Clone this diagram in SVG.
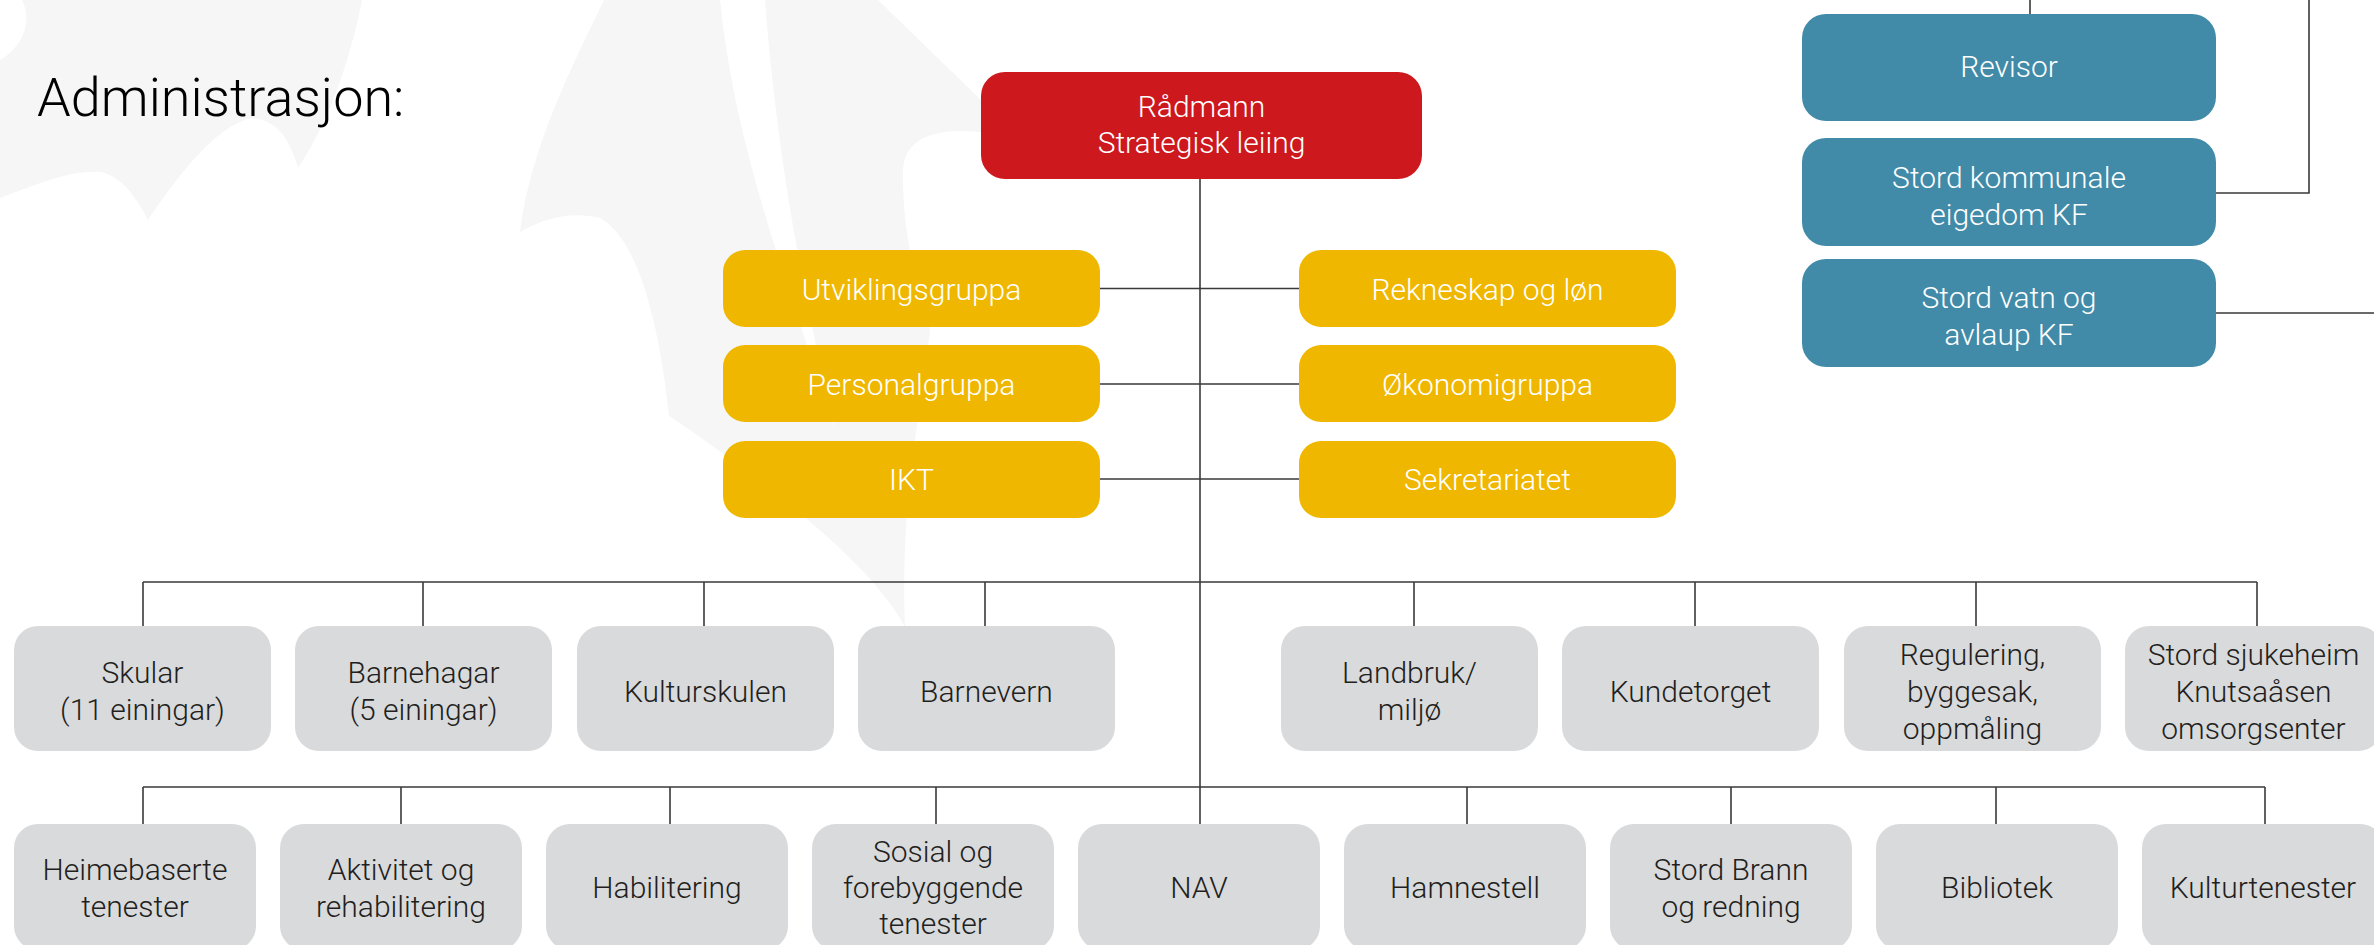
<svg xmlns="http://www.w3.org/2000/svg" width="2374" height="945" viewBox="0 0 2374 945">
<style>
text{font-family:Roboto,"Liberation Sans",sans-serif;font-weight:300;font-size:30px;text-anchor:middle}
.w{fill:#ffffff}
.d{fill:#231f20}
.red{fill:#cd181e}
.yel{fill:#f0b700}
.teal{fill:#418ba9}
.grey{fill:#d9dadc}
.ln{stroke:#3a3a3a;stroke-width:1.6;fill:none}
.wm{fill:#f6f6f6}
</style>
<rect width="2374" height="945" fill="#ffffff"/>
<g id="watermark">
<path class="wm" d="M0,60 C25,45 32,20 22,0 L362,0 C350,60 330,120 298,168 C290,140 278,120 252,118 C215,125 175,180 148,220 C135,195 120,175 100,172 C70,170 35,185 0,198 Z"/>
<path class="wm" d="M604,0 L878,0 L981,100 L981,132 C940,128 905,135 903,170 C902,230 915,280 930,330 C920,420 900,500 905,627 C870,560 750,470 669,416 C660,330 640,240 600,218 C570,210 540,220 520,232 C530,150 570,70 604,0 Z"/>
<path fill="#ffffff" d="M720,0 L765,0 C775,130 795,260 835,430 C790,290 735,150 720,0 Z"/>
</g>
<text x="37" y="116" style="font-size:54px;text-anchor:start;fill:#000">Administrasjon:</text>
<g id="connectors">
<path class="ln" d="M1200,179 V824"/>
<path class="ln" d="M1100,288.5 H1299 M1100,384 H1299 M1100,479 H1299"/>
<path class="ln" d="M143,582 H2257 M143,582 V626 M423,582 V626 M704,582 V626 M985,582 V626 M1414,582 V626 M1695,582 V626 M1976,582 V626 M2257,582 V626"/>
<path class="ln" d="M143,787 H2265 M143,787 V824 M401,787 V824 M670,787 V824 M936,787 V824 M1467,787 V824 M1731,787 V824 M1996,787 V824 M2265,787 V824"/>
<path class="ln" d="M2030,0 V14 M2309,0 V193 H2216 M2216,313 H2374"/>
</g>
<g id="radmann"><rect class="red" x="981" y="72" width="441" height="107" rx="24"/><text class="w" x="1201.5" y="117">Rådmann</text><text class="w" x="1201.5" y="153">Strategisk leiing</text></g>
<g id="utviklingsgruppa"><rect class="yel" x="723" y="250" width="377" height="77" rx="22"/><text class="w" x="911.5" y="300">Utviklingsgruppa</text></g>
<g id="personalgruppa"><rect class="yel" x="723" y="345" width="377" height="77" rx="22"/><text class="w" x="911.5" y="395">Personalgruppa</text></g>
<g id="ikt"><rect class="yel" x="723" y="441" width="377" height="77" rx="22"/><text class="w" x="911.5" y="490">IKT</text></g>
<g id="rekneskap"><rect class="yel" x="1299" y="250" width="377" height="77" rx="22"/><text class="w" x="1487.5" y="300">Rekneskap og løn</text></g>
<g id="okonomigruppa"><rect class="yel" x="1299" y="345" width="377" height="77" rx="22"/><text class="w" x="1487.5" y="395">Økonomigruppa</text></g>
<g id="sekretariatet"><rect class="yel" x="1299" y="441" width="377" height="77" rx="22"/><text class="w" x="1487.5" y="490">Sekretariatet</text></g>
<g id="revisor"><rect class="teal" x="1802" y="14" width="414" height="107" rx="24"/><text class="w" x="2009" y="77">Revisor</text></g>
<g id="eigedom"><rect class="teal" x="1802" y="138" width="414" height="108" rx="24"/><text class="w" x="2009" y="188">Stord kommunale</text><text class="w" x="2009" y="225">eigedom KF</text></g>
<g id="vatn"><rect class="teal" x="1802" y="259" width="414" height="108" rx="24"/><text class="w" x="2009" y="308">Stord vatn og</text><text class="w" x="2009" y="345">avlaup KF</text></g>
<g id="skular"><rect class="grey" x="14" y="626" width="257" height="125" rx="24"/><text class="d" x="142.5" y="683">Skular</text><text class="d" x="142.5" y="720">(11 einingar)</text></g>
<g id="barnehagar"><rect class="grey" x="295" y="626" width="257" height="125" rx="24"/><text class="d" x="423.5" y="683">Barnehagar</text><text class="d" x="423.5" y="720">(5 einingar)</text></g>
<g id="kulturskulen"><rect class="grey" x="577" y="626" width="257" height="125" rx="24"/><text class="d" x="705.5" y="702">Kulturskulen</text></g>
<g id="barnevern"><rect class="grey" x="858" y="626" width="257" height="125" rx="24"/><text class="d" x="986.5" y="702">Barnevern</text></g>
<g id="landbruk"><rect class="grey" x="1281" y="626" width="257" height="125" rx="24"/><text class="d" x="1409.5" y="683">Landbruk/</text><text class="d" x="1409.5" y="720">miljø</text></g>
<g id="kundetorget"><rect class="grey" x="1562" y="626" width="257" height="125" rx="24"/><text class="d" x="1690.5" y="702">Kundetorget</text></g>
<g id="regulering"><rect class="grey" x="1844" y="626" width="257" height="125" rx="24"/><text class="d" x="1972.5" y="665">Regulering,</text><text class="d" x="1972.5" y="702">byggesak,</text><text class="d" x="1972.5" y="739">oppmåling</text></g>
<g id="sjukeheim"><rect class="grey" x="2125" y="626" width="257" height="125" rx="24"/><text class="d" x="2253.5" y="665">Stord sjukeheim</text><text class="d" x="2253.5" y="702">Knutsaåsen</text><text class="d" x="2253.5" y="739">omsorgsenter</text></g>
<g id="heimebaserte"><rect class="grey" x="14" y="824" width="242" height="126" rx="24"/><text class="d" x="135" y="880">Heimebaserte</text><text class="d" x="135" y="917">tenester</text></g>
<g id="aktivitet"><rect class="grey" x="280" y="824" width="242" height="126" rx="24"/><text class="d" x="401" y="880">Aktivitet og</text><text class="d" x="401" y="917">rehabilitering</text></g>
<g id="habilitering"><rect class="grey" x="546" y="824" width="242" height="126" rx="24"/><text class="d" x="667" y="898">Habilitering</text></g>
<g id="sosial"><rect class="grey" x="812" y="824" width="242" height="126" rx="24"/><text class="d" x="933" y="862">Sosial og</text><text class="d" x="933" y="898">forebyggende</text><text class="d" x="933" y="934">tenester</text></g>
<g id="nav"><rect class="grey" x="1078" y="824" width="242" height="126" rx="24"/><text class="d" x="1199" y="898">NAV</text></g>
<g id="hamnestell"><rect class="grey" x="1344" y="824" width="242" height="126" rx="24"/><text class="d" x="1465" y="898">Hamnestell</text></g>
<g id="brann"><rect class="grey" x="1610" y="824" width="242" height="126" rx="24"/><text class="d" x="1731" y="880">Stord Brann</text><text class="d" x="1731" y="917">og redning</text></g>
<g id="bibliotek"><rect class="grey" x="1876" y="824" width="242" height="126" rx="24"/><text class="d" x="1997" y="898">Bibliotek</text></g>
<g id="kulturtenester"><rect class="grey" x="2142" y="824" width="242" height="126" rx="24"/><text class="d" x="2263" y="898">Kulturtenester</text></g>
</svg>
